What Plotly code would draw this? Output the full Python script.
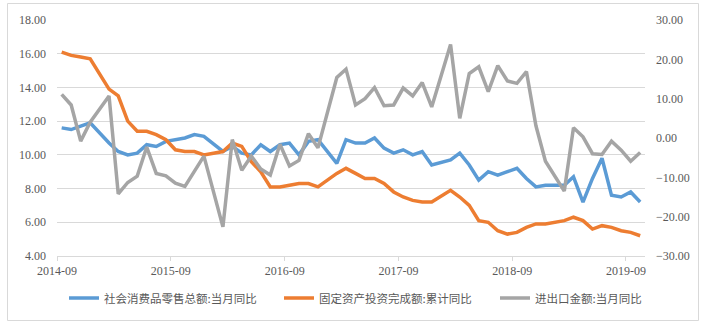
import plotly.graph_objects as go

# Monthly observations (January figures are not published separately)
months = [
    "2014-09", "2014-10", "2014-11", "2014-12",
    "2015-02", "2015-03", "2015-04", "2015-05", "2015-06", "2015-07", "2015-08", "2015-09", "2015-10", "2015-11", "2015-12",
    "2016-02", "2016-03", "2016-04", "2016-05", "2016-06", "2016-07", "2016-08", "2016-09", "2016-10", "2016-11", "2016-12",
    "2017-02", "2017-03", "2017-04", "2017-05", "2017-06", "2017-07", "2017-08", "2017-09", "2017-10", "2017-11", "2017-12",
    "2018-02", "2018-03", "2018-04", "2018-05", "2018-06", "2018-07", "2018-08", "2018-09", "2018-10", "2018-11", "2018-12",
    "2019-02", "2019-03", "2019-04", "2019-05", "2019-06", "2019-07", "2019-08", "2019-09", "2019-10",
]

# 社会消费品零售总额:当月同比 (left axis, %)
retail_yoy = [
    11.6, 11.5, 11.7, 11.9,
    10.7, 10.2, 10.0, 10.1, 10.6, 10.5, 10.8, 10.9, 11.0, 11.2, 11.1,
    10.2, 10.5, 10.1, 10.0, 10.6, 10.2, 10.6, 10.7, 10.0, 10.8, 10.9,
    9.5, 10.9, 10.7, 10.7, 11.0, 10.4, 10.1, 10.3, 10.0, 10.2, 9.4,
    9.7, 10.1, 9.4, 8.5, 9.0, 8.8, 9.0, 9.2, 8.6, 8.1, 8.2,
    8.2, 8.7, 7.2, 8.6, 9.8, 7.6, 7.5, 7.8, 7.2,
]

# 固定资产投资完成额:累计同比 (left axis, %)
fai_ytd_yoy = [
    16.1, 15.9, 15.8, 15.7,
    13.9, 13.5, 12.0, 11.4, 11.4, 11.2, 10.9, 10.3, 10.2, 10.2, 10.0,
    10.2, 10.7, 10.5, 9.6, 9.0, 8.1, 8.1, 8.2, 8.3, 8.3, 8.1,
    8.9, 9.2, 8.9, 8.6, 8.6, 8.3, 7.8, 7.5, 7.3, 7.2, 7.2,
    7.9, 7.5, 7.0, 6.1, 6.0, 5.5, 5.3, 5.4, 5.7, 5.9, 5.9,
    6.1, 6.3, 6.1, 5.6, 5.8, 5.7, 5.5, 5.4, 5.2,
]

# 进出口金额:当月同比 (right axis, %)
trade_yoy = [
    11.1, 8.4, -0.8, 4.0,
    10.7, -14.2, -11.3, -9.7, -2.3, -9.0, -9.6, -11.5, -12.3, -8.4, -4.6,
    -22.6, -0.4, -8.2, -4.6, -7.9, -9.4, -1.6, -7.1, -5.7, 1.1, -2.5,
    15.4, 17.5, 8.4, 10.0, 12.8, 8.2, 8.4, 12.7, 10.7, 14.1, 7.9,
    23.8, 5.0, 16.4, 18.1, 11.8, 18.4, 14.5, 13.9, 16.9, 3.1, -5.9,
    -13.5, 2.6, 0.3, -4.0, -4.2, -0.8, -3.1, -5.9, -3.7,
]

series_names = ["社会消费品零售总额:当月同比", "固定资产投资完成额:累计同比", "进出口金额:当月同比"]
series_colors = ["#5B9BD5", "#ED7D31", "#A5A5A5"]

x_start, x_end = "2014-09-01", "2019-11-01"
left_range, left_step = [4, 18], 2
right_range, right_step = [-30, 30], 10

text_color = "#595959"
grid_color = "#D9D9D9"
tick_font = dict(family="Liberation Serif", size=12, color=text_color)
legend_font = dict(family="Noto Sans CJK SC", size=11.5, color=text_color)

# pixel geometry of the plotting area
plot_left, plot_width = 57, 588
plot_bottom, plot_height = 256, 236

def px_to_paper_x(px):
    return (px - plot_left) / plot_width

def px_to_paper_y(py):
    return (plot_bottom - py) / plot_height

fig = go.Figure()
legend_ids = ["legend", "legend2", "legend3"]
for values, name, color, axis, leg in zip(
    [retail_yoy, fai_ytd_yoy, trade_yoy], series_names, series_colors, ["y", "y", "y2"], legend_ids
):
    fig.add_trace(go.Scatter(
        x=months, y=values, name=name, yaxis=axis, mode="lines",
        line=dict(color=color, width=3.5),
        xperiod="M1", xperiodalignment="middle",
        legend=leg,
    ))

# one single-entry legend per series, laid out in a row under the axis
legend_x_px = [64, 279, 495]
legend_y = px_to_paper_y(298)
legend_layout = {}
for leg, lx in zip(legend_ids, legend_x_px):
    legend_layout[leg] = dict(
        orientation="h", x=px_to_paper_x(lx), xanchor="left",
        y=legend_y, yanchor="middle",
        font=legend_font, bgcolor="rgba(0,0,0,0)", borderwidth=0,
    )

fig.update_layout(
    width=704, height=326,
    margin=dict(l=plot_left, r=704 - plot_left - plot_width, t=20, b=326 - plot_bottom, autoexpand=False),
    paper_bgcolor="white", plot_bgcolor="white",
    showlegend=True,
    xaxis=dict(
        type="date", range=[x_start, x_end],
        tick0=x_start, dtick="M12", tickformat="%Y-%m",
        showgrid=False, zeroline=False,
        showline=True, linecolor=grid_color, linewidth=1,
        ticks="outside", ticklen=4, tickcolor=grid_color,
        tickfont=tick_font,
    ),
    yaxis=dict(
        range=left_range, dtick=left_step, tickformat=".2f",
        showgrid=True, gridcolor=grid_color, gridwidth=1,
        zeroline=False, showline=False, ticks="",
        tickfont=tick_font, ticklabelstandoff=10,
    ),
    yaxis2=dict(
        overlaying="y", side="right",
        range=right_range, dtick=right_step, tickformat=".2f",
        showgrid=False, zeroline=False, showline=False, ticks="",
        tickfont=tick_font, ticklabelstandoff=10,
    ),
    shapes=[dict(
        type="rect", xref="paper", yref="paper",
        x0=px_to_paper_x(7.5), x1=px_to_paper_x(698.5),
        y0=px_to_paper_y(320.5), y1=px_to_paper_y(3.5),
        line=dict(color=grid_color, width=1), fillcolor="rgba(0,0,0,0)",
        layer="below",
    )],
    **legend_layout,
)

fig.write_html("out.html")
